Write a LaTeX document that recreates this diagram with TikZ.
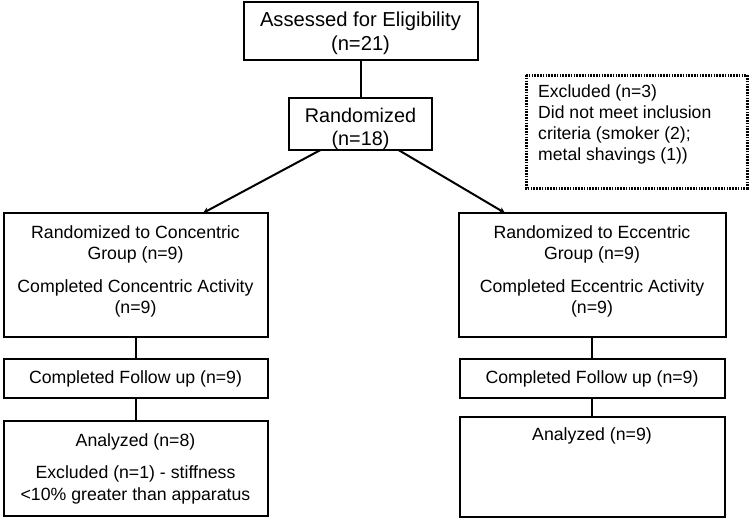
\documentclass[tikz,border=0pt]{standalone}
\usepackage{fontspec}
\setmainfont{Liberation Sans}
\usetikzlibrary{arrows.meta}
\begin{document}
\begin{tikzpicture}[x=1pt,y=-1pt,
  box/.style={draw, line width=2pt, rectangle, inner sep=0pt, outer sep=0pt},
  txt/.style={align=center, inner sep=0pt, font=\fontsize{17.7}{21.5}\selectfont},
  conn/.style={line width=2pt},
  arr/.style={line width=2pt, -{Stealth[length=6pt,width=6pt]}}]
\useasboundingbox (0,0) rectangle (750,520);
% boxes
\node[box, minimum width=234pt, minimum height=58pt] (assess) at (360.5,31) {};
\node[box, minimum width=143pt, minimum height=52pt] (rand) at (360.5,124) {};
\node[box, draw=none, minimum width=221pt, minimum height=113pt] (excl) at (636.5,131.5) {};
\draw[line width=3pt, dash pattern=on 1.6pt off 1.2pt] (excl.north west) rectangle (excl.south east);
\node[box, minimum width=264pt, minimum height=124pt] (conc) at (135.5,275) {};
\node[box, minimum width=267pt, minimum height=124pt] (ecc) at (592,275) {};
\node[box, minimum width=264pt, minimum height=39pt] (fu1) at (135.5,378.5) {};
\node[box, minimum width=265pt, minimum height=39pt] (fu2) at (592,378.5) {};
\node[box, minimum width=264pt, minimum height=95pt] (an1) at (135.5,468.5) {};
\node[box, minimum width=265pt, minimum height=100pt] (an2) at (592,467) {};
% texts
\node[txt, font=\fontsize{20.2}{24}\selectfont] (t1) at (360.5,33) {Assessed for Eligibility\\(n=21)};
\node[txt, font=\fontsize{19.8}{23}\selectfont] (t2) at (360.5,128.5) {Randomized\\(n=18)};
\node[txt, align=left, anchor=west, font=\fontsize{17.6}{20.8}\selectfont] (t3) at (538,124.5) {Excluded (n=3)\\Did not meet inclusion\\criteria (smoker (2);\\metal shavings (1))};
\node[txt] (t4) at (135.5,271.5) {Randomized to Concentric\\Group (n=9)\\[11pt]Completed Concentric Activity\\(n=9)};
\node[txt] (t5) at (592,271.5) {Randomized to Eccentric\\Group (n=9)\\[11pt]Completed Eccentric Activity\\(n=9)};
\node[txt] (t6) at (135.5,378.5) {Completed Follow up (n=9)};
\node[txt] (t7) at (592,378.5) {Completed Follow up (n=9)};
\node[txt] (t8) at (135.5,468.5) {Analyzed (n=8)\\[11pt]Excluded (n=1) - stiffness\\<10\% greater than apparatus};
\node[txt] (t9) at (592,436) {Analyzed (n=9)};
% connectors
\draw[conn] (assess.south) -- (rand.north);
\draw[arr] ([xshift=-40pt]rand.south) -- ([xshift=67.5pt]conc.north);
\draw[arr] ([xshift=38pt]rand.south) -- ([xshift=-87pt]ecc.north);
\draw[conn] (conc.south) -- (fu1.north);
\draw[conn] (fu1.south) -- (an1.north);
\draw[conn] (ecc.south) -- (fu2.north);
\draw[conn] (fu2.south) -- (an2.north);
\end{tikzpicture}
\end{document}
